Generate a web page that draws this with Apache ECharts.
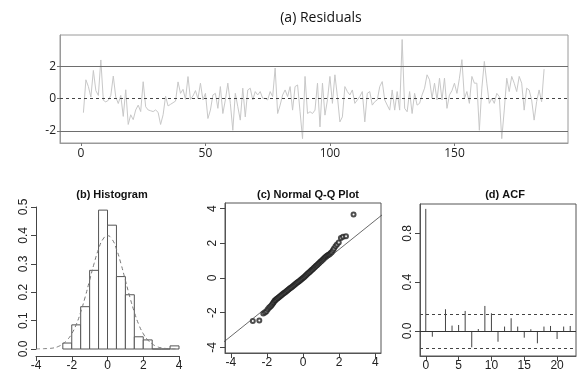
<!DOCTYPE html>
<html>
<head>
<meta charset="utf-8">
<script src="https://cdn.jsdelivr.net/npm/echarts@6/dist/echarts.min.js"></script>
<style>
  html, body { margin: 0; padding: 0; background: #fff; }
  #chart { width: 579px; height: 375px; }
</style>
</head>
<body>
<div id="chart"></div>
<script>
// (a) residuals, index 1..186
const residuals = [
  -0.87, 1.17, 0.75, 0.1, 1.75, 0.5, 0.2, 2.4, -0.1, -0.2,
  -0.1, 0.2, 1.4, 0.1, -0.3, 0.2, -1.1, 0.55, -1.6, -1.0,
  -1.3, -0.7, -0.4, -0.8, 1.05, -0.5, -0.7, -0.75, -0.8, -0.7,
  -0.85, -1.6, -1.0, 0.15, -0.45, -0.35, -0.25, -0.15, 1.04, 0.33,
  0.58, -0.04, 1.37, -0.04, 0.17, 0.5, 0.0, 0.96, -0.08, 0.33,
  -1.23, -0.71, 0.23, 0.33, -0.6, 0.75, -0.92, -0.08, 0.96, -0.29,
  -1.96, 0.33, -0.5, -1.33, 0.65, -1.13, 0.54, 0.65, -0.08, 0.44,
  0.23, 0.44, 0.02, 0.02, -0.08, 0.44, 0.13, 1.9, -0.92, -0.4,
  0.23, 0.54, 0.13, 0.75, -0.71, 0.75, 0.85, -0.81, -2.48, 1.38,
  -0.92, -0.81, -0.92, -0.71, 0.96, -1.75, 0.96, -1.02, -0.08, 1.38,
  -0.29, 1.48, 0.13, -1.44, -1.13, 0.75, 0.44, 0.23, 0.54, -0.29,
  -0.08, 0.13, 0.44, -1.44, 0.33, 0.44, -0.4, -0.19, -0.08, 0.75,
  1.06, -0.08, -0.4, -0.71, 0.54, -0.71, 0.44, -0.71, 3.67, -0.6,
  -0.81, 0.44, -0.92, 0.33, -0.4, -0.29, 0.23, 0.65, 1.48, 1.17,
  0.02, 0.96, -0.08, 1.27, -0.08, 1.27, -0.6, 0.23, 0.5, 0.96,
  0.33, 1.27, 2.42, 0.02, 0.44, -0.29, 1.38, 0.96, 0.96, -1.96,
  0.65, 2.31, 0.96, -0.29, 0.02, -0.29, 0.33, 0.13, -2.48, -0.71,
  1.27, 0.44, 1.38, 0.96, 0.44, 1.38, 0.96, -0.71, 0.65, 0.54,
  -0.08, -1.33, -0.19, 0.54, -0.19, 1.83
];
const residTicks = [0, 50, 100, 150];
const residLevels = [-2, 0, 2];

// (b) histogram (density) and dashed normal curve
const histBreaks = [-2.5, -2, -1.5, -1, -0.5, 0, 0.5, 1, 1.5, 2, 2.5, 3, 3.5, 4];
const histDensity = [0.021, 0.085, 0.149, 0.277, 0.489, 0.436, 0.255, 0.191, 0.043, 0.032, 0, 0, 0.011];
const curveX = [-4, -3.75, -3.5, -3.25, -3, -2.75, -2.5, -2.25, -2, -1.75, -1.5, -1.25, -1, -0.75, -0.5, -0.25,
  0, 0.25, 0.5, 0.75, 1, 1.25, 1.5, 1.75, 2, 2.25, 2.5, 2.75, 3, 3.25, 3.5, 3.75, 4];
const curveY = [0, 0, 0.001, 0.002, 0.004, 0.009, 0.018, 0.032, 0.054, 0.086, 0.13, 0.183, 0.242, 0.301, 0.352, 0.387,
  0.399, 0.387, 0.352, 0.301, 0.242, 0.183, 0.13, 0.086, 0.054, 0.032, 0.018, 0.009, 0.004, 0.002, 0.001, 0, 0];
const histXTicks = [-4, -2, 0, 2, 4];
const histYTicks = [0, 0.1, 0.2, 0.3, 0.4, 0.5];

// (c) normal Q-Q
const qqTheo = [
  -2.78, -2.42, -2.2, -2.1, -2.02, -1.95, -1.88, -1.82, -1.76, -1.71, -1.66, -1.62, -1.58, -1.54, -1.5,
  -1.45, -1.4, -1.35, -1.3, -1.25, -1.2, -1.15, -1.1, -1.05, -1.0, -0.95, -0.9, -0.85, -0.8, -0.75,
  -0.7, -0.65, -0.6, -0.55, -0.5, -0.45, -0.4, -0.35, -0.3, -0.25, -0.2, -0.15, -0.1, -0.05, 0,
  0.05, 0.1, 0.15, 0.2, 0.25, 0.3, 0.35, 0.4, 0.45, 0.5, 0.55, 0.6, 0.65, 0.7, 0.75,
  0.8, 0.85, 0.9, 0.95, 1.0, 1.05, 1.1, 1.15, 1.2, 1.25, 1.3,
  1.35, 1.4, 1.45, 1.5, 1.55, 1.6, 1.66, 1.72, 1.8, 1.88, 1.98, 2.1, 2.22, 2.38, 2.8
];
const qqSample = [
  -2.47, -2.45, -2.05, -1.98, -1.92, -1.8, -1.72, -1.66, -1.6, -1.52, -1.45, -1.4, -1.33, -1.28, -1.25,
  -1.2, -1.16, -1.12, -1.08, -1.03, -0.99, -0.95, -0.91, -0.87, -0.83, -0.79, -0.75, -0.7, -0.66, -0.62,
  -0.58, -0.54, -0.5, -0.46, -0.42, -0.38, -0.33, -0.29, -0.25, -0.21, -0.17, -0.13, -0.08, -0.04, 0,
  0.04, 0.09, 0.14, 0.19, 0.24, 0.29, 0.33, 0.38, 0.43, 0.48, 0.52, 0.57, 0.62, 0.67, 0.72,
  0.77, 0.82, 0.87, 0.92, 0.96, 1.01, 1.06, 1.11, 1.16, 1.21, 1.26,
  1.29, 1.32, 1.36, 1.4, 1.45, 1.5, 1.6, 1.7, 1.83, 1.93, 2.05, 2.3, 2.38, 2.4, 3.66
];
const qqLineX = [-4.6, 4.6];
const qqLineY = [-3.86, 3.82];
const qqTicks = [-4, -2, 0, 2, 4];

// (d) ACF
const acfLags = [0, 1, 2, 3, 4, 5, 6, 7, 8, 9, 10, 11, 12, 13, 14, 15, 16, 17, 18, 19, 20, 21, 22];
const acfValues = [1.0, -0.047, -0.003, 0.178, 0.044, 0.049, 0.164, -0.134, 0.016, 0.205, 0.145, -0.088,
  0.036, 0.104, 0.036, -0.055, 0.014, -0.101, 0.036, 0.041, -0.066, 0.036, 0.041];
const acfBound = 0.143;
const acfXTicks = [0, 5, 10, 15, 20];
const acfYTicks = [0, 0.4, 0.8];

const FONT = 'Liberation Sans';
const labelStyle = { color: '#222', fontFamily: FONT, fontSize: 12 };
const tickStyle = { lineStyle: { color: '#444', width: 1 }, length: 5 };
const boxLine = (color) => ({ show: true, onZero: false, lineStyle: { color, width: 1 } });

const chart = echarts.init(document.getElementById('chart'), null, { renderer: 'canvas' });

const lineMark = (data) => ({
  symbol: 'none',
  silent: true,
  label: { show: false },
  data,
});

const option = {
  backgroundColor: '#fff',
  animation: false,
  title: [
    { text: '(a) Residuals', left: 316, top: 6, textAlign: 'center',
      textStyle: { fontFamily: 'Open Sans', fontSize: 14, fontWeight: 'normal', color: '#111' } },
    { text: '(b) Histogram', left: 107, top: 184, textAlign: 'center',
      textStyle: { fontFamily: FONT, fontSize: 11, fontWeight: 'bold', color: '#111' } },
    { text: '(c) Normal Q-Q Plot', left: 303, top: 184, textAlign: 'center',
      textStyle: { fontFamily: FONT, fontSize: 11, fontWeight: 'bold', color: '#111' } },
    { text: '(d) ACF', left: 500, top: 184, textAlign: 'center',
      textStyle: { fontFamily: FONT, fontSize: 11, fontWeight: 'bold', color: '#111' } },
  ],
  grid: [
    { left: 60, top: 35, width: 508, height: 108, show: true, borderColor: '#9a9a9a', borderWidth: 1 },
    { left: 36, top: 207, width: 143, height: 142 },
    { left: 225, top: 203, width: 156, height: 150, show: true, borderColor: '#555', borderWidth: 1 },
    { left: 420, top: 204, width: 156, height: 152, show: true, borderColor: '#555', borderWidth: 1 },
  ],
  xAxis: [
    {
      type: 'value', gridIndex: 0, min: -8.4, max: 195.6,
      axisLine: boxLine('#9a9a9a'),
      axisTick: { show: true, length: 3, lineStyle: { color: '#777', width: 1 }, customValues: residTicks },
      axisLabel: { ...labelStyle, fontFamily: 'Open Sans', fontSize: 12, margin: 5, customValues: residTicks },
      splitLine: { show: false },
    },
    {
      type: 'value', gridIndex: 1, min: -4, max: 4, offset: 7,
      axisLine: boxLine('#444'),
      axisTick: { show: true, ...tickStyle, customValues: histXTicks },
      axisLabel: { ...labelStyle, margin: 4, customValues: histXTicks },
      splitLine: { show: false },
    },
    {
      type: 'value', gridIndex: 2, min: -4.32, max: 4.32,
      axisLine: boxLine('#555'),
      axisTick: { show: true, ...tickStyle, customValues: qqTicks },
      axisLabel: { ...labelStyle, margin: 4, customValues: qqTicks },
      splitLine: { show: false },
    },
    {
      type: 'value', gridIndex: 3, min: -0.88, max: 22.88,
      axisLine: boxLine('#555'),
      axisTick: { show: true, ...tickStyle, customValues: acfXTicks },
      axisLabel: { ...labelStyle, margin: 4, customValues: acfXTicks },
      splitLine: { show: false },
    },
  ],
  yAxis: [
    {
      type: 'value', gridIndex: 0, min: -2.75, max: 3.95,
      axisLine: boxLine('#9a9a9a'),
      axisTick: { show: true, length: 3, lineStyle: { color: '#777', width: 1 }, customValues: residLevels },
      axisLabel: { ...labelStyle, fontFamily: 'Open Sans', fontSize: 12, margin: 4, customValues: residLevels },
      splitLine: { show: false },
    },
    {
      type: 'value', gridIndex: 1, min: 0, max: 0.5,
      axisLine: boxLine('#444'),
      axisTick: { show: true, ...tickStyle, customValues: histYTicks },
      axisLabel: { ...labelStyle, rotate: 90, margin: 6, customValues: histYTicks,
        formatter: (v) => v.toFixed(1) },
      splitLine: { show: false },
    },
    {
      type: 'value', gridIndex: 2, min: -4.32, max: 4.32,
      axisLine: boxLine('#555'),
      axisTick: { show: true, ...tickStyle, customValues: qqTicks },
      axisLabel: { ...labelStyle, rotate: 90, margin: 6, customValues: qqTicks },
      splitLine: { show: false },
    },
    {
      type: 'value', gridIndex: 3, min: -0.205, max: 1.04,
      axisLine: boxLine('#555'),
      axisTick: { show: true, ...tickStyle, customValues: acfYTicks },
      axisLabel: { ...labelStyle, rotate: 90, margin: 6, customValues: acfYTicks,
        formatter: (v) => v.toFixed(1) },
      splitLine: { show: false },
    },
  ],
  series: [
    // (a)
    {
      type: 'line', xAxisIndex: 0, yAxisIndex: 0,
      data: residuals.map((v, i) => [i + 1, v]),
      showSymbol: false,
      lineStyle: { color: '#c8c8c8', width: 1 },
      markLine: lineMark([
        { yAxis: residLevels[0], lineStyle: { color: '#6e6e6e', width: 1, type: 'solid' } },
        { yAxis: residLevels[2], lineStyle: { color: '#6e6e6e', width: 1, type: 'solid' } },
        { yAxis: residLevels[1], lineStyle: { color: '#444', width: 1, type: [3, 3] } },
      ]),
    },
    // (b)
    {
      type: 'custom', xAxisIndex: 1, yAxisIndex: 1,
      data: histDensity.map((d, i) => [histBreaks[i], histBreaks[i + 1], d]),
      renderItem: (params, api) => {
        const p0 = api.coord([api.value(0), 0]);
        const p1 = api.coord([api.value(1), api.value(2)]);
        return {
          type: 'rect',
          shape: { x: p0[0], y: p1[1], width: p1[0] - p0[0], height: p0[1] - p1[1] },
          style: { fill: '#fff', stroke: '#555', lineWidth: 1 },
        };
      },
    },
    {
      type: 'line', xAxisIndex: 1, yAxisIndex: 1,
      data: curveX.map((x, i) => [x, curveY[i]]),
      smooth: true, showSymbol: false,
      lineStyle: { color: '#777', width: 1, type: [4, 3] },
    },
    // (c)
    {
      type: 'line', xAxisIndex: 2, yAxisIndex: 2,
      data: qqLineX.map((x, i) => [x, qqLineY[i]]),
      showSymbol: false, clip: true,
      lineStyle: { color: '#444', width: 0.8 },
    },
    {
      type: 'scatter', xAxisIndex: 2, yAxisIndex: 2,
      data: qqTheo.map((x, i) => [x, qqSample[i]]),
      symbol: 'emptyCircle', symbolSize: 4,
      itemStyle: { color: '#222', borderColor: '#222', borderWidth: 0.6 },
    },
    // (d)
    {
      type: 'custom', xAxisIndex: 3, yAxisIndex: 3,
      data: acfLags.map((l, i) => [l, acfValues[i]]),
      renderItem: (params, api) => {
        const a = api.coord([api.value(0), 0]);
        const b = api.coord([api.value(0), api.value(1)]);
        return {
          type: 'line',
          shape: { x1: a[0], y1: a[1], x2: b[0], y2: b[1] },
          style: { stroke: '#444', lineWidth: 1 },
        };
      },
      markLine: lineMark([
        { yAxis: 0, lineStyle: { color: '#333', width: 1, type: 'solid' } },
        { yAxis: acfBound, lineStyle: { color: '#444', width: 1, type: [3, 3] } },
        { yAxis: -acfBound, lineStyle: { color: '#444', width: 1, type: [3, 3] } },
      ]),
    },
  ],
};

chart.setOption(option);
</script>
</body>
</html>
